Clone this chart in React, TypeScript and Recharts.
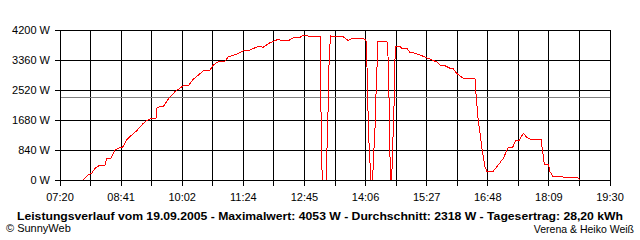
import React from "react";
import { LineChart, Line, XAxis, YAxis, CartesianGrid, ReferenceLine } from "recharts";

// time of day in minutes since midnight
const times: number[] = [
  471, 473.2, 477.6, 482.1, 486.5, 493.1, 499.7, 502, 507.7, 512.9,
  519.6, 522.7, 528.5, 535.2, 541.8, 550.6, 555.1, 561.7, 567.4, 568.3,
  572.7, 577.1, 583.7, 592.6, 603.6, 610.3, 616.9, 630.2, 639.1, 643.5,
  650.1, 659, 663.4, 674.5, 683.3, 692.2, 703.2, 709.8, 718.7, 729.7,
  734.3, 743, 749.7, 758.5, 760.8, 765.2, 771.8, 776.2, 782, 785.1,
  785.5, 786.4, 787.3, 788.1, 793.1, 794, 795.3, 797.4, 799.3, 816,
  822.7, 827.2, 835.9, 846.1, 847.1, 848.4, 849.2, 851.5, 852.4, 855,
  855.8, 858.1, 859.4, 861.1, 861.7, 873.6, 874.9, 875.7, 877.1, 878,
  879.3, 880.3, 881.1, 882.4, 883.7, 884.6, 886, 891.3, 893.5, 900.2,
  904.5, 911.2, 917.8, 924.5, 933.7, 940.4, 944.4, 951, 957.6, 962,
  966.5, 970.9, 975.3, 990.8, 992.1, 993.9, 995.2, 997.5, 999.7, 1001.8,
  1004.1, 1006.3, 1015.1, 1021.7, 1028.4, 1035, 1040.8, 1045.2, 1049.6, 1054.9,
  1059.4, 1063.8, 1078.4, 1080.7, 1082.8, 1088.1, 1090.4, 1093.9, 1103.6, 1110.3,
  1114.7, 1125.8, 1130.2,
];

// power in W
const watts: number[] = [
  0, 64, 140, 188, 328, 420, 420, 608, 608, 840,
  904, 904, 1120, 1260, 1380, 1588, 1660, 1728, 1728, 2008,
  2052, 2050, 2268, 2472, 2640, 2640, 2820, 3052, 3080, 3220,
  3312, 3332, 3452, 3520, 3620, 3640, 3744, 3716, 3844, 3940,
  3900, 3900, 3984, 3984, 4032, 4053, 4012, 4032, 4032, 4032,
  3360, 1960, 652, 0, 0, 652, 1492, 3548, 4032, 4012,
  3900, 3968, 3968, 3940, 3452, 2472, 1448, 468, 0, 0,
  468, 1448, 2380, 3360, 3872, 3872, 3844, 3172, 1912, 652,
  0, 0, 652, 1448, 2332, 3360, 3752, 3732, 3688, 3688,
  3576, 3548, 3500, 3444, 3360, 3304, 3220, 3200, 3128, 3116,
  2988, 2912, 2848, 2848, 2428, 1960, 1632, 1308, 932, 652,
  372, 252, 252, 420, 608, 916, 916, 1120, 1120, 1308,
  1196, 1148, 1148, 792, 448, 448, 232, 112, 112, 64,
  84, 84, 0,
];

const averageW = 2318;
const xStart = 440; // 07:20
const xEnd = 1170; // 19:30
const xDivisions = 18;
const xLabels: string[] = ["07:20", "08:41", "10:02", "11:24", "12:45", "14:06", "15:27", "16:48", "18:09", "19:30"];
const yTicks: number[] = [0, 840, 1680, 2520, 3360, 4200];

const titleText = "Leistungsverlauf vom 19.09.2005 - Maximalwert: 4053 W - Durchschnitt: 2318 W - Tagesertrag: 28,20 kWh";
const leftFooter = "© SunnyWeb";
const rightFooter = "Verena & Heiko Weiß";

const data = times.map((t, i) => ({ t, w: watts[i] }));
const xTicks = Array.from({ length: xDivisions + 1 }, (_, k) => xStart + (k * (xEnd - xStart)) / xDivisions);

const FONT = "'Liberation Sans', Arial, sans-serif";

const css = `
.recharts-cartesian-grid line,
.recharts-cartesian-axis line,
.recharts-reference-line line,
.recharts-line-curve { shape-rendering: crispEdges; }
`;

export default function App() {
  return (
    <div style={{ position: "absolute", left: 0, top: 0, width: 640, height: 240, background: "#fff" }}>
      <style>{css}</style>
      <LineChart width={640} height={240} data={data} margin={{ top: 30, right: 30, left: 0, bottom: 30 }}>
        <CartesianGrid stroke="#000" strokeWidth={1} strokeDasharray="" />
        <XAxis
          dataKey="t"
          type="number"
          domain={[xStart, xEnd]}
          ticks={xTicks}
          interval={0}
          allowDataOverflow
          height={30}
          tickSize={6}
          tickMargin={7}
          axisLine={{ stroke: "#000" }}
          tickLine={{ stroke: "#000" }}
          tick={{ fill: "#000", fontSize: 11, fontFamily: FONT }}
          tickFormatter={(_v: number, i: number) => (i % 2 === 0 ? xLabels[i / 2] : "")}
        />
        <YAxis
          type="number"
          domain={[0, 4200]}
          ticks={yTicks}
          interval={0}
          width={60}
          tickSize={5}
          tickMargin={5}
          axisLine={{ stroke: "#000" }}
          tickLine={{ stroke: "#000" }}
          tick={{ fill: "#000", fontSize: 11, fontFamily: FONT }}
          tickFormatter={(v: number) => `${v} W`}
        />
        <ReferenceLine y={averageW} stroke="#808080" strokeWidth={1} />
        <Line
          type="linear"
          dataKey="w"
          stroke="#ff0000"
          strokeWidth={1}
          dot={false}
          activeDot={false}
          isAnimationActive={false}
        />
      </LineChart>
      <svg width={640} height={240} style={{ position: "absolute", left: 0, top: 0, pointerEvents: "none" }}>
        <text
          x={320}
          y={220}
          textAnchor="middle"
          fontFamily={FONT}
          fontWeight="bold"
          fontSize={11}
          textLength={606}
          lengthAdjust="spacingAndGlyphs"
          fill="#000"
        >
          {titleText}
        </text>
        <text x={6} y={232} fontFamily={FONT} fontSize={11} fill="#000">
          {leftFooter}
        </text>
        <text x={634} y={233} textAnchor="end" fontFamily={FONT} fontSize={10.5} fill="#000">
          {rightFooter}
        </text>
      </svg>
    </div>
  );
}
